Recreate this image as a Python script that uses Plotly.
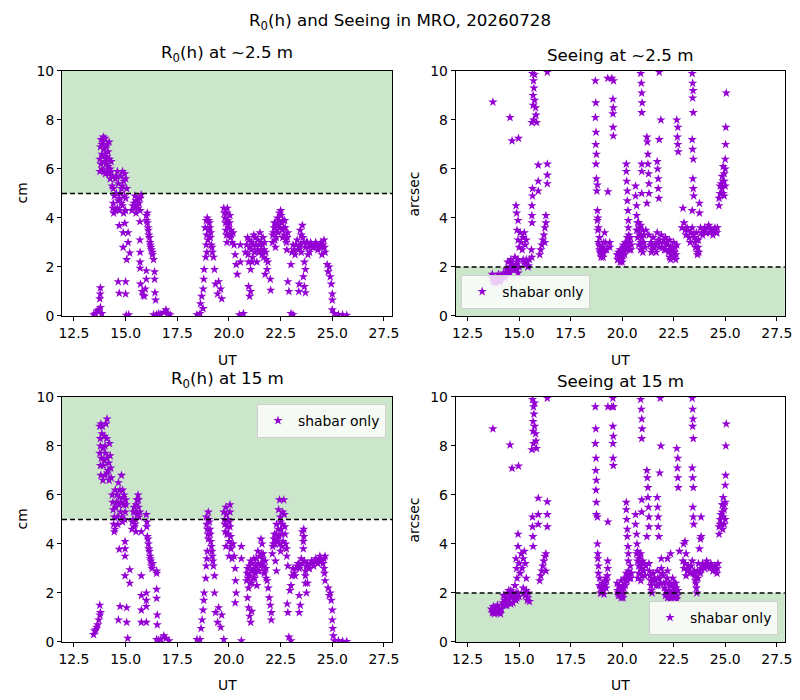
import plotly.graph_objects as go

# ---- data (UT hours, R0 in cm, seeing in arcsec) ----

ut_r0_low = [
    13.45, 13.55, 13.62, 13.7, 13.78, 13.85, 13.75, 13.77, 13.78,
    13.75, 13.75, 13.78, 13.82, 13.85, 13.88, 13.9, 13.95, 13.98, 14.0, 14.05, 14.08, 14.1, 14.15, 14.2, 14.22, 14.25,
    13.8, 13.85, 13.9, 13.95, 14.0, 14.05, 14.1, 14.15, 14.2, 14.25, 14.3, 14.35, 14.12, 13.92, 14.02,
    14.3, 14.35, 14.4, 14.42, 14.5, 14.55, 14.6, 14.65, 14.7, 14.75, 14.8, 14.85, 14.9, 14.95, 15.0, 15.0, 14.85,
    14.4, 14.45, 14.5, 14.55, 14.6, 14.65, 14.7, 14.75, 14.8, 14.85, 14.9, 14.95, 15.0, 15.05, 14.38,
    14.69, 14.96, 14.88, 14.88, 15.12, 15.12, 15.2, 15.05, 14.64, 14.69, 15.0, 15.0, 15.03, 15.15,
    15.3, 15.4, 15.45, 15.55, 15.6, 15.7, 15.75, 15.5,
    15.35, 15.45, 15.5, 15.6, 15.65, 15.7,
    15.69, 15.69, 15.7, 15.7, 15.7, 15.72, 15.8, 15.85, 15.95, 15.9,
    16.0, 16.05, 16.1, 16.15, 16.2, 16.25, 16.3, 16.35, 16.05,
    16.02, 16.08, 16.12, 16.18, 16.22, 16.3,
    16.0, 16.0, 16.4, 16.4, 16.42, 16.45,
    16.35, 16.5, 16.6, 16.7, 16.85, 16.95, 17.05, 17.15,
    18.45, 18.6, 18.62, 18.68, 18.75, 18.75, 18.78, 18.8,
    18.85, 18.9, 18.95, 19.0, 19.05, 19.1, 19.15, 19.2, 19.25, 18.88, 18.9, 19.3,
    18.92, 18.98, 19.02, 19.08, 19.12, 19.18, 18.93,
    19.35, 19.45, 19.5, 19.6, 19.65,
    19.75, 19.8, 19.85, 19.9, 19.95, 20.0, 20.05, 20.1, 20.15, 19.9,
    19.78, 19.83, 19.88, 19.93, 19.98, 20.03, 20.08, 20.12, 19.92,
    20.2, 20.25, 20.3, 20.35, 20.4, 20.5, 20.7, 20.55, 20.55,
    20.8, 20.9, 20.95, 21.0, 21.05, 21.1, 21.15, 21.2, 21.3, 21.35, 21.4, 21.45, 20.95, 21.0, 21.05,
    20.85, 20.92, 20.98, 21.08, 21.12, 21.18, 21.25, 21.28, 21.38, 21.48, 21.58, 21.62, 21.68, 21.72, 21.78, 21.88,
    21.5, 21.55, 21.6, 21.65, 21.7, 21.8, 21.85, 21.75, 22.0, 22.02,
    22.1, 22.15, 22.2, 22.3, 22.35, 22.4, 22.45, 22.5, 22.55, 22.6, 22.65, 22.7, 22.75, 22.8, 22.85, 22.25,
    22.12, 22.18, 22.28, 22.32, 22.38, 22.42, 22.48, 22.52, 22.58, 22.62, 22.68, 22.72, 22.78, 22.82, 22.22,
    22.85, 22.9, 23.0, 23.1,
    23.0, 23.05, 23.1, 23.2, 23.3, 23.35, 23.45, 23.5, 23.55, 23.6, 23.7, 23.8, 23.9, 24.0, 24.1, 24.2, 24.3,
    24.4, 24.5, 24.6, 24.65, 23.65, 23.7,
    23.15, 23.25, 23.4, 23.5, 23.58, 23.75, 23.85, 23.95, 24.05, 24.15, 24.25, 24.35, 24.45, 24.55, 24.62,
    23.82, 24.5, 23.45,
    23.6, 23.65, 23.7, 23.4, 23.38,
    24.75, 24.8, 24.85, 24.9, 24.95, 25.0, 25.0, 25.0, 25.1, 25.3, 25.5, 25.7,
]
r0_low = [
    0.05, 0.1, 0.2, 0.25, 0.35, 0.1, 0.7, 0.9, 1.15,
    5.9, 6.4, 6.9, 7.2, 6.6, 6.0, 7.1, 6.8, 6.3, 7.25, 6.9, 6.5, 7.0, 6.1, 5.8, 6.4, 5.6,
    6.2, 7.0, 6.5, 5.9, 6.6, 6.2, 5.9, 6.7, 7.1, 6.0, 6.3, 5.7, 6.4, 7.3, 5.8,
    5.9, 5.3, 4.6, 4.2, 5.6, 5.0, 4.4, 5.4, 4.8, 5.7, 5.2, 4.5, 5.5, 4.9, 4.3, 5.6, 5.9,
    5.2, 4.9, 4.3, 5.7, 5.9, 4.7, 4.3, 5.0, 4.6, 5.3, 4.2, 5.8, 4.8, 5.2, 4.4,
    3.69, 3.78, 3.4, 2.8, 3.4, 3.0, 2.57, 2.3, 1.4, 0.93, 1.4, 0.9, 0.03, 0.05,
    4.3, 4.6, 4.9, 4.5, 4.8, 4.3, 4.95, 4.2,
    4.5, 4.4, 4.7, 4.4, 4.6, 4.8,
    3.85, 3.1, 2.6, 2.2, 1.95, 1.3, 1.0, 0.85, 1.1, 0.8,
    4.1, 3.8, 3.5, 3.2, 2.9, 2.7, 2.5, 2.3, 4.2,
    3.9, 3.6, 3.3, 3.0, 2.8, 2.6,
    1.85, 1.5, 1.8, 1.5, 0.95, 0.65,
    0.05, 0.05, 0.1, 0.05, 0.15, 0.25, 0.1, 0.05,
    0.05, 0.1, 0.5, 0.8, 0.3, 1.1, 1.5, 1.9,
    3.6, 3.9, 4.0, 3.5, 3.8, 3.2, 2.9, 2.6, 2.4, 2.4, 2.9, 1.9,
    3.3, 3.1, 3.9, 3.6, 3.4, 2.8, 2.6,
    1.3, 0.9, 1.4, 1.1, 0.7,
    4.4, 4.0, 3.5, 4.2, 3.7, 3.3, 4.1, 3.5, 3.0, 3.0,
    4.2, 3.8, 3.3, 3.9, 3.6, 3.8, 3.2, 3.3, 4.4,
    3.4, 2.9, 2.5, 2.1, 1.7, 0.05, 0.1, 2.9, 2.2,
    2.6, 3.2, 2.2, 2.8, 1.9, 3.0, 2.4, 3.3, 2.9, 2.2, 3.1, 2.6, 1.2, 0.8, 1.0,
    2.9, 2.5, 3.1, 2.7, 2.2, 2.9, 2.6, 3.2, 2.7, 2.9, 2.7, 2.9, 2.4, 3.0, 2.6, 2.2,
    3.4, 3.0, 2.5, 3.2, 2.7, 2.3, 1.9, 1.7, 1.5, 1.05,
    3.0, 3.4, 3.8, 3.5, 4.0, 3.7, 4.2, 4.3, 3.8, 3.2, 3.6, 3.9, 3.1, 2.7, 3.4, 2.8,
    3.3, 3.6, 3.2, 3.7, 3.4, 3.9, 3.6, 4.1, 3.5, 3.9, 3.3, 3.6, 3.0, 3.2, 3.1,
    1.4, 1.0, 0.1, 0.05,
    2.1, 2.6, 2.9, 2.5, 3.1, 2.7, 2.9, 3.3, 3.7, 3.0, 2.8, 3.0, 2.6, 2.9, 2.8, 3.0, 2.7,
    2.9, 2.8, 3.1, 2.6, 2.2, 1.9,
    2.7, 2.9, 2.8, 2.6, 3.2, 3.0, 2.8, 3.0, 2.8, 2.9, 2.9, 2.8, 3.0, 2.9, 2.8,
    2.5, 2.5, 3.5,
    1.6, 1.2, 0.95, 1.3, 1.0,
    2.1, 1.8, 2.0, 1.6, 1.3, 0.9, 0.65, 0.25, 0.1, 0.05, 0.05, 0.03,
]

ut_see_low = [
    13.7, 13.75, 13.85, 13.95, 14.0, 14.05, 14.15, 14.25, 14.3, 14.4, 14.45, 14.5, 14.6, 14.65, 14.7, 14.8,
    14.85, 14.9, 14.95, 15.0,
    13.7, 13.8, 13.9, 14.0, 14.1, 14.2, 14.35, 14.45, 14.55, 14.65, 14.75, 14.85, 14.9, 14.95, 14.55,
    13.73, 14.56, 14.66, 14.97,
    14.85, 14.88, 14.9, 14.95, 15.0, 15.05, 15.1, 15.15, 15.2, 15.25, 15.3, 15.35, 14.95,
    15.2, 15.3, 15.4, 15.45, 15.5, 15.25, 15.35, 15.42,
    15.62, 15.62, 15.63, 15.65, 15.65, 15.93, 15.93, 15.93, 15.6, 15.62,
    15.65, 15.7, 15.72, 15.68, 15.75, 15.8, 15.82, 15.85, 15.7, 15.62, 15.75, 15.68,
    16.0, 16.05, 16.1, 16.15, 16.2, 16.25, 16.3, 16.3, 16.25, 16.37, 16.37, 16.37, 16.37,
    18.7, 18.72, 18.7, 18.73, 18.72, 18.75, 18.73, 18.75, 18.77, 18.8, 18.8, 18.82, 18.85, 18.9, 18.95,
    19.0, 19.05, 19.1, 18.9, 19.1, 19.15, 19.25, 19.4, 19.4, 19.31, 18.8,
    18.88, 18.93, 18.98, 19.03, 19.08, 19.15, 19.2, 18.85, 18.82,
    19.5, 19.58, 19.55, 19.57, 19.55, 19.56, 19.57, 19.3,
    19.8, 19.85, 19.9, 19.95, 20.0, 20.05, 20.1, 20.15, 20.2, 20.25, 20.3, 19.75, 20.35, 20.4, 20.45,
    19.78, 19.82, 19.88, 19.92, 19.98, 20.02, 20.08, 20.12, 20.18, 20.22, 20.28, 20.38, 20.42, 19.9, 20.0,
    20.2, 20.2, 20.22, 20.25, 20.25, 20.28, 20.3, 20.3, 20.32,
    20.65, 20.65, 20.7, 20.7, 20.75, 20.8, 20.85, 20.9, 20.95, 21.0, 21.05, 20.8, 20.9, 21.0,
    20.7, 20.75, 20.8, 20.85, 20.9, 20.95, 21.0, 21.05, 21.1, 21.15,
    20.95, 20.95, 20.95, 20.9, 20.93, 20.95, 20.97, 20.95,
    21.2, 21.22, 21.25, 21.25, 21.28, 21.3, 21.3, 21.2,
    21.3, 21.4, 21.45, 21.5, 21.6, 21.7, 21.75, 21.8, 21.9, 22.0, 22.05, 22.1, 22.2, 22.25, 22.3, 22.4,
    22.45, 22.5, 22.55, 22.6, 22.65,
    21.35, 21.42, 21.48, 21.55, 21.65, 21.72, 21.85, 21.95, 22.02, 22.12, 22.18, 22.28, 22.35, 22.42,
    22.48, 22.52, 22.58, 22.62, 22.3, 22.35,
    21.7, 21.72, 21.75, 21.75, 21.78, 21.8, 21.8, 21.88,
    22.65, 22.7, 22.68, 22.7, 22.72,
    23.4, 23.42, 23.44, 23.42, 23.45, 23.4, 23.42, 23.45, 23.43, 23.45, 23.47,
    22.9, 23.0, 23.1, 23.2, 23.3, 23.4, 23.5, 23.55, 23.6, 23.65, 23.7, 23.8, 23.9, 24.0, 24.1, 24.2,
    24.3, 24.4, 24.5, 24.6, 23.75, 23.75, 23.4, 22.95,
    23.05, 23.15, 23.25, 23.35, 23.45, 23.52, 23.62, 23.68, 23.72, 23.85, 23.95, 24.05, 24.15, 24.25,
    24.35, 24.45, 24.55, 24.62, 23.65,
    24.7, 24.75, 24.8, 24.85, 24.9, 24.95, 24.95, 25.0, 25.0, 25.02, 25.03, 25.05,
    24.7, 24.75, 24.8, 24.85, 24.9, 24.95, 25.0, 24.9,
]
see_low = [
    1.55, 1.4, 1.35, 1.45, 1.7, 1.4, 1.6, 1.75, 1.55, 1.9, 2.2, 1.8, 2.3, 1.95, 2.1, 2.4,
    1.9, 2.2, 1.75, 2.0,
    1.7, 1.5, 1.6, 1.5, 1.45, 1.65, 1.7, 1.9, 2.0, 2.2, 1.9, 2.1, 1.9, 2.3, 1.75,
    8.73, 8.1, 7.15, 7.25,
    4.5, 4.2, 3.5, 3.1, 2.8, 3.4, 3.0, 2.7, 3.2, 3.4, 2.9, 3.1, 3.9,
    2.3, 2.1, 2.2, 2.05, 2.3, 2.2, 2.3, 2.0,
    4.5, 4.1, 3.8, 5.2, 4.9, 5.5, 5.1, 6.16, 2.7, 2.4,
    9.9, 9.6, 9.3, 9.0, 8.8, 8.5, 8.2, 7.9, 8.0, 7.9, 9.85, 8.6,
    2.5, 2.7, 2.9, 3.1, 3.3, 3.6, 3.8, 4.1, 3.0, 6.2, 5.75, 5.4, 9.95,
    9.6, 8.7, 8.1, 7.5, 7.0, 6.6, 6.2, 5.6, 5.1, 4.3, 3.9, 3.5, 3.0, 2.7, 2.6,
    2.5, 2.8, 2.55, 3.2, 3.0, 3.4, 2.7, 3.0, 2.8, 5.07, 5.35,
    2.9, 2.6, 2.4, 2.6, 2.4, 2.7, 3.0, 3.6, 4.0,
    9.7, 9.6, 8.85, 8.5, 8.25, 7.7, 7.35, 9.7,
    2.3, 2.5, 2.7, 2.35, 2.5, 2.9, 2.6, 3.0, 2.8, 3.2, 3.0, 2.5, 2.7, 3.2, 2.9,
    2.3, 2.6, 2.4, 2.5, 2.3, 2.6, 2.8, 2.5, 2.7, 3.0, 2.8, 3.0, 2.7, 2.2, 2.2,
    6.2, 5.9, 5.5, 5.1, 4.7, 4.3, 3.9, 3.6, 3.3,
    5.3, 4.9, 4.5, 4.1, 3.8, 3.5, 3.3, 3.7, 3.2, 3.5, 3.0, 2.9, 2.7, 2.6,
    3.5, 3.2, 3.8, 3.6, 3.0, 2.8, 3.0, 3.3, 2.8, 3.5,
    5.0, 6.2, 5.9, 9.9, 9.5, 9.1, 8.7, 8.3,
    7.3, 7.1, 6.6, 6.2, 5.8, 5.4, 5.0, 4.6,
    3.3, 3.0, 2.7, 3.2, 2.9, 3.4, 3.1, 2.8, 3.3, 3.0, 2.7, 3.2, 2.9, 2.6, 3.1, 2.5,
    2.8, 3.0, 2.6, 2.3, 2.9,
    2.9, 2.6, 2.9, 2.8, 2.6, 3.0, 3.0, 2.8, 3.1, 2.7, 3.0, 2.7, 2.8, 2.7,
    2.6, 2.4, 2.8, 2.5, 2.4, 2.3,
    6.3, 6.0, 5.6, 5.2, 4.8, 7.2, 9.95, 8.0,
    8.0, 7.7, 7.3, 7.0, 6.7,
    9.9, 9.5, 9.2, 8.9, 8.3, 7.2, 6.8, 6.4, 5.6, 5.2, 4.9,
    3.6, 3.8, 3.3, 3.5, 3.0, 3.6, 3.2, 2.8, 3.4, 2.6, 3.1, 3.6, 3.3, 3.6, 3.4, 3.7,
    3.5, 3.3, 3.6, 3.4, 4.2, 4.6, 4.3, 4.4,
    3.5, 3.6, 3.2, 3.4, 3.3, 3.0, 3.1, 2.8, 2.6, 3.4, 3.5, 3.4, 3.6, 3.4,
    3.5, 3.5, 3.4, 3.6, 2.5,
    4.5, 5.0, 5.4, 5.7, 6.1, 5.5, 4.9, 6.0, 6.4, 7.0, 7.7, 9.1,
    4.8, 5.3, 5.0, 5.2, 5.5, 5.8, 5.3, 5.0,
]

ut_r0_high = [
    13.45, 13.5, 13.55, 13.6, 13.65, 13.7, 13.75, 13.75, 13.78,
    13.75, 13.77, 13.75, 13.78, 13.8, 13.85, 13.9, 13.95, 13.9, 14.0, 14.05, 14.1, 14.1, 14.15, 14.2, 14.25, 14.3,
    13.78, 13.82, 13.88, 13.92, 13.98, 14.02, 14.08, 14.12, 14.18, 14.22, 14.28, 13.8, 14.0,
    14.35, 14.4, 14.42, 14.45, 14.5, 14.55, 14.6, 14.65, 14.7, 14.75, 14.8, 14.85, 14.9, 14.95, 15.0, 14.85,
    14.38, 14.45, 14.52, 14.58, 14.62, 14.68, 14.72, 14.78, 14.82, 14.88, 14.92, 14.98, 15.02, 14.48,
    14.69, 14.97, 14.97, 14.97, 14.97, 15.2, 15.2, 14.73, 14.65, 15.05, 15.05, 15.1,
    15.3, 15.35, 15.4, 15.45, 15.5, 15.55, 15.6, 15.62, 15.65, 15.5, 15.76,
    15.32, 15.38, 15.42, 15.48, 15.52, 15.58, 15.62, 15.68,
    15.76, 15.76, 15.76, 15.76, 16.0, 16.0,
    16.0, 16.02, 16.05, 16.1, 16.15, 16.2, 16.25, 16.3, 16.5, 16.5,
    16.03, 16.08, 16.12, 16.18, 16.22, 16.28,
    16.0, 16.0, 16.5, 16.5, 16.53, 16.53,
    16.5, 16.6, 16.7, 16.85, 16.95, 17.1,
    18.45, 18.6, 18.65, 18.7, 18.75, 18.78, 18.8,
    18.9, 18.95, 19.0, 19.0, 19.05, 19.1, 19.15, 19.2, 19.25, 19.3, 18.95, 18.9, 18.88,
    18.92, 18.98, 19.02, 19.08, 19.12, 19.18, 19.22, 18.93,
    19.3, 19.35, 19.45, 19.5, 19.6, 19.65, 19.75,
    19.75, 19.8, 19.85, 19.9, 19.95, 20.0, 20.05, 20.1, 20.15, 19.85, 20.05, 20.0,
    19.78, 19.82, 19.88, 19.92, 19.98, 20.02, 20.08, 20.12, 20.05,
    20.2, 20.25, 20.3, 20.32, 20.35, 20.3, 20.6, 20.6, 20.6,
    20.85, 20.9, 20.95, 21.0, 21.05, 21.1, 21.15, 21.2, 21.25, 21.3, 21.35, 21.4, 21.45,
    20.88, 20.92, 20.98, 21.02, 21.08, 21.12, 21.18, 21.22, 21.28, 21.32, 21.38, 21.42, 21.48, 21.52,
    21.58, 21.62, 21.68, 21.72, 21.78, 21.85,
    20.9, 20.95, 21.0, 21.05, 21.1,
    21.55, 21.6, 21.65,
    21.6, 21.7, 21.75, 21.8, 21.9, 21.95, 22.0, 22.05, 22.05,
    22.1, 22.15, 22.2, 22.25, 22.3, 22.35, 22.4, 22.45, 22.5, 22.55, 22.6, 22.65, 22.7, 22.75, 22.8, 22.85,
    22.5, 22.3,
    22.12, 22.18, 22.22, 22.28, 22.32, 22.38, 22.42, 22.48, 22.52, 22.58, 22.62, 22.68, 22.72, 22.78,
    22.45, 22.55,
    22.82, 22.85, 22.9, 23.0,
    23.0, 23.05, 23.1, 23.2, 23.3, 23.4, 23.5, 23.6, 23.55, 23.6, 23.65, 23.7, 23.8, 23.9, 24.0, 24.1,
    24.2, 24.3, 24.4, 24.5, 24.6, 24.65, 23.7, 23.75, 22.95,
    23.15, 23.25, 23.35, 23.45, 23.55, 23.75, 23.85, 23.95, 24.05, 24.15, 24.25, 24.35, 24.45, 24.55,
    24.6, 23.7, 23.8, 24.62, 24.65,
    23.62, 23.62, 23.4, 23.45, 23.4,
    24.8, 24.85, 24.9, 24.95, 25.0, 25.0, 25.02, 25.05, 25.1, 25.3, 25.5, 25.7,
]
r0_high = [
    0.3, 0.45, 0.5, 0.6, 0.7, 0.9, 1.1, 1.5, 1.2,
    8.8, 8.3, 7.7, 7.2, 6.8, 8.5, 7.9, 7.4, 6.6, 8.0, 8.9, 9.1, 7.5, 7.0, 6.6, 7.6, 6.7,
    8.0, 7.5, 8.8, 7.2, 8.4, 7.7, 8.3, 6.9, 7.3, 8.1, 7.1, 8.9, 6.8,
    6.0, 5.4, 4.8, 4.5, 6.2, 5.7, 5.1, 6.5, 5.9, 5.3, 6.8, 6.2, 5.6, 5.0, 5.8, 4.9,
    5.7, 5.1, 5.5, 6.0, 4.8, 5.6, 6.2, 5.7, 5.1, 5.9, 6.0, 5.3, 5.6, 4.6,
    3.78, 4.1, 3.8, 3.5, 2.7, 2.95, 2.4, 1.45, 0.9, 1.4, 0.8, 0.15,
    4.6, 5.0, 5.5, 4.8, 5.3, 5.8, 6.0, 5.5, 5.1, 4.5, 4.5,
    4.9, 5.3, 4.7, 5.0, 5.6, 5.2, 5.8, 5.3,
    2.7, 1.9, 1.3, 0.8, 1.45, 0.8,
    5.2, 4.7, 4.3, 4.0, 3.7, 3.4, 3.1, 3.2, 2.9, 2.8,
    4.9, 4.2, 3.8, 3.5, 3.3, 3.0,
    2.0, 1.7, 2.15, 1.78, 1.1, 0.7,
    0.1, 0.08, 0.1, 0.25, 0.15, 0.05,
    0.1, 0.1, 0.55, 0.9, 1.3, 1.7, 2.0,
    5.1, 4.6, 4.2, 5.3, 4.9, 4.4, 3.9, 3.5, 3.1, 2.7, 3.7, 3.1, 2.6,
    4.8, 4.4, 5.0, 4.6, 4.1, 3.7, 3.3, 3.4,
    2.0, 1.2, 0.8, 1.4, 0.6, 1.1, 0.1,
    5.3, 4.8, 5.5, 4.4, 5.0, 4.1, 4.7, 3.8, 3.4, 3.9, 5.6, 3.5,
    5.0, 4.5, 5.2, 4.7, 4.4, 4.9, 4.3, 4.0, 5.3,
    4.0, 3.5, 3.0, 2.5, 2.0, 1.6, 3.9, 3.4, 0.05,
    2.5, 3.0, 2.2, 2.7, 3.3, 2.4, 2.9, 3.4, 2.6, 3.1, 2.3, 3.7, 2.9,
    2.8, 2.6, 3.1, 2.4, 2.9, 3.2, 2.6, 3.0, 2.8, 3.4, 2.9, 3.2, 3.5, 3.1,
    3.6, 3.4, 3.1, 2.9, 3.0, 2.5,
    1.8, 1.4, 1.05, 0.8, 1.25,
    4.2, 4.0, 3.6,
    3.2, 2.8, 3.3, 2.6, 2.2, 1.8, 1.5, 1.2, 0.9,
    3.6, 4.0, 4.4, 3.3, 4.8, 4.2, 5.4, 5.8, 4.9, 4.4, 5.3, 5.8, 4.7, 4.0, 3.5, 3.1,
    3.7, 2.9,
    3.9, 4.2, 4.0, 4.4, 4.1, 4.6, 4.3, 5.1, 4.6, 4.8, 4.1, 5.2, 4.4, 3.8,
    4.0, 3.9,
    1.55, 1.2, 0.2, 0.05,
    2.3, 2.7, 3.0, 2.7, 3.1, 3.0, 3.4, 3.8, 4.5, 4.1, 3.3, 2.9, 3.2, 3.0, 3.3, 3.1,
    3.4, 3.2, 3.5, 3.3, 3.0, 3.5, 2.4, 2.0, 2.1,
    2.8, 3.0, 3.2, 3.1, 3.2, 3.1, 3.0, 3.2, 3.2, 3.3, 3.3, 3.3, 3.4, 3.2,
    3.4, 2.7, 2.4, 2.8, 2.5,
    4.6, 4.3, 1.9, 1.5, 1.2,
    2.2, 1.9, 2.0, 1.7, 1.3, 0.9, 0.55, 0.25, 0.05, 0.05, 0.03, 0.02,
]

ut_see_high = [
    13.65, 13.7, 13.75, 13.8, 13.9, 13.95, 14.0, 14.05, 14.1, 14.2, 14.25, 14.3, 14.4, 14.45, 14.5, 14.6,
    14.7, 14.75, 14.8, 14.85, 14.95, 15.0,
    13.7, 13.75, 13.85, 13.95, 14.05, 14.15, 14.25, 14.35, 14.45, 14.5, 14.55, 14.65, 14.7, 14.8,
    14.85, 14.9, 14.35, 14.6,
    13.73, 14.56, 14.66, 14.97,
    14.85, 14.88, 14.9, 14.95, 14.95, 15.0, 15.05, 15.1, 15.15, 15.2, 15.25, 15.3, 15.35,
    15.2, 15.3, 15.4, 15.45, 15.5, 15.25, 15.35, 15.42,
    15.65, 15.65, 15.67, 15.68,
    15.65, 15.7, 15.72, 15.68, 15.75, 15.8, 15.82, 15.85, 15.7, 15.62, 15.75, 15.68,
    15.93, 15.93, 15.93,
    16.0, 16.05, 16.1, 16.15, 16.2, 16.25, 16.3, 16.3, 16.37, 16.37, 16.37, 16.37,
    18.7, 18.72, 18.7, 18.73, 18.72, 18.75, 18.73, 18.75, 18.75, 18.8,
    18.8, 18.82, 18.85, 18.9, 18.95, 19.0, 19.05, 19.1, 19.15, 19.2, 19.25, 19.3, 19.3, 19.31,
    18.85, 18.9, 18.95, 19.02, 19.08, 19.12, 19.18, 19.22, 19.28, 18.82,
    19.5, 19.58, 19.55, 19.57, 19.55, 19.56, 19.57, 19.31, 19.55,
    19.8, 19.85, 19.9, 19.95, 20.0, 20.05, 20.1, 20.15, 20.2, 20.25, 20.3, 20.35, 20.4, 19.75, 20.45,
    19.78, 19.82, 19.88, 19.92, 19.98, 20.02, 20.08, 20.12, 20.18, 20.22, 20.28, 20.38, 20.42, 19.95, 20.05,
    20.2, 20.2, 20.22, 20.25, 20.25, 20.28, 20.3, 20.3,
    20.65, 20.65, 20.7, 20.72, 20.75, 20.8, 20.85, 20.9, 20.95, 21.0, 21.05, 20.8, 20.9, 20.77,
    20.7, 20.75, 20.8, 20.85, 20.9, 20.95, 21.0, 21.05, 21.1, 21.15,
    20.9, 20.93, 20.95, 20.97, 20.95,
    21.2, 21.22, 21.25, 21.25, 21.28, 21.3, 21.3, 21.2, 20.95, 20.95,
    21.3, 21.35, 21.4, 21.45, 21.5, 21.6, 21.7, 21.75, 21.8, 21.9, 22.0, 22.05, 22.1, 22.15, 22.2, 22.25,
    22.3, 22.35, 22.4, 22.45, 22.5, 22.55, 22.6, 22.65, 22.7, 22.2, 22.35, 21.9,
    21.32, 21.38, 21.42, 21.48, 21.55, 21.65, 21.72, 21.85, 21.95, 22.02, 22.12, 22.18, 22.28, 22.32,
    22.42, 22.48, 22.52, 22.58, 22.62, 22.68, 22.2, 22.4,
    21.7, 21.72, 21.75, 21.75, 21.78, 21.85, 21.88, 21.82,
    22.65, 22.7, 22.68, 22.7, 22.72, 22.78,
    23.4, 23.42, 23.44, 23.42, 23.45, 23.4, 23.42, 23.45, 23.43, 23.45, 23.47, 22.98, 23.83, 23.83,
    22.95, 23.0, 23.1, 23.2, 23.3, 23.4, 23.5, 23.55, 23.6, 23.65, 23.7, 23.8, 23.9, 24.0, 24.1, 24.2,
    24.3, 24.4, 24.5, 24.6, 24.65, 23.75, 23.8, 23.1, 23.05,
    23.05, 23.15, 23.25, 23.35, 23.45, 23.52, 23.58, 23.62, 23.68, 23.75, 23.85, 23.95, 24.05, 24.15,
    24.25, 24.35, 24.45, 24.55, 24.62, 23.6,
    24.7, 24.75, 24.8, 24.85, 24.9, 24.95, 24.95, 25.0, 25.0, 25.02, 25.03, 25.05,
    24.7, 24.75, 24.8, 24.85, 24.9, 24.95, 25.0, 24.88,
]
see_high = [
    1.35, 1.2, 1.45, 1.15, 1.3, 1.5, 1.2, 1.35, 1.15, 1.6, 1.9, 1.7, 1.5, 2.0, 1.75, 2.1,
    1.6, 1.95, 2.3, 1.7, 2.0, 1.85,
    1.3, 1.2, 1.4, 1.25, 1.2, 1.35, 1.5, 1.8, 1.7, 2.1, 1.9, 1.8, 2.0, 1.75,
    2.0, 1.8, 1.5, 1.55,
    8.7, 8.04, 7.09, 7.18,
    3.4, 3.0, 2.6, 4.4, 3.9, 3.2, 2.8, 3.6, 3.0, 3.4, 3.7, 3.2, 2.6,
    2.2, 1.9, 1.7, 2.0, 1.65, 2.0, 2.1, 1.8,
    5.1, 4.7, 4.3, 3.9,
    9.9, 9.6, 9.3, 9.0, 8.8, 8.5, 8.2, 7.9, 8.1, 7.85, 9.75, 8.6,
    5.87, 5.2, 4.8,
    2.5, 2.7, 2.9, 3.1, 3.3, 3.5, 3.6, 2.9, 5.72, 5.2, 4.7, 9.95,
    9.6, 8.7, 8.1, 7.5, 7.0, 6.6, 6.2, 5.7, 5.2, 5.1,
    4.0, 3.6, 3.1, 2.6, 2.2, 2.0, 2.4, 2.1, 2.3, 2.6, 2.5, 3.0, 3.3, 4.9,
    2.8, 2.3, 2.0, 2.2, 2.3, 1.95, 2.4, 2.2, 2.7, 3.4,
    9.6, 9.6, 8.8, 8.4, 8.1, 7.5, 7.2, 9.6, 9.95,
    2.0, 2.3, 1.9, 2.5, 2.1, 1.8, 2.6, 2.3, 2.8, 2.5, 2.9, 2.6, 3.1, 2.4, 2.8,
    2.1, 1.9, 2.2, 2.0, 1.9, 2.3, 2.2, 2.4, 2.5, 2.6, 2.7, 2.8, 2.6, 1.8, 2.0,
    5.7, 5.4, 5.0, 4.6, 4.3, 3.9, 3.6, 3.3,
    5.2, 4.8, 4.4, 4.0, 3.7, 3.4, 3.2, 3.6, 3.0, 3.3, 2.9, 2.8, 2.5, 2.6,
    3.6, 3.3, 3.1, 3.5, 3.0, 2.7, 2.9, 3.2, 2.7, 3.1,
    9.9, 9.5, 9.1, 8.7, 8.3,
    7.0, 6.7, 6.3, 5.9, 5.5, 5.1, 4.7, 4.3, 5.8, 5.3,
    3.2, 2.7, 2.3, 2.0, 2.8, 2.5, 2.9, 2.3, 2.6, 3.0, 2.7, 2.2, 1.9, 2.4, 2.9, 2.1,
    1.75, 2.3, 2.0, 2.6, 2.2, 1.8, 2.4, 1.75, 2.1, 3.4, 3.6, 3.4,
    2.9, 2.5, 2.1, 2.5, 2.6, 2.3, 2.6, 2.4, 2.8, 2.4, 2.1, 2.6, 2.4, 2.0,
    2.3, 2.0, 2.4, 2.0, 2.2, 1.9, 1.8, 1.8,
    5.9, 5.5, 5.1, 4.7, 4.3, 9.95, 8.0, 6.9,
    7.9, 7.5, 7.1, 6.7, 6.3, 3.7,
    9.95, 9.5, 9.1, 8.8, 8.3, 7.1, 6.7, 6.3, 5.5, 5.1, 4.8, 4.0, 5.1, 4.3,
    3.3, 3.0, 2.7, 3.1, 2.8, 3.3, 2.9, 2.5, 2.2, 2.9, 3.2, 2.8, 3.2, 3.0, 3.3, 3.1,
    3.2, 2.9, 3.1, 2.8, 3.2, 3.8, 4.2, 3.6, 4.1,
    3.2, 2.9, 3.0, 3.1, 2.8, 2.7, 2.4, 2.0, 2.6, 2.9, 3.0, 3.1, 3.1, 3.2,
    3.0, 3.1, 3.0, 2.9, 3.0, 2.6,
    4.4, 4.8, 5.2, 5.6, 5.9, 5.4, 4.8, 5.7, 6.4, 6.8, 8.0, 8.9,
    4.7, 5.0, 4.8, 5.3, 5.1, 5.6, 5.0, 4.6,
]

R0_LIMIT = 5      # cm, good R0 above this
SEEING_LIMIT = 2  # arcsec, good seeing below this

assert len(ut_r0_low) == len(r0_low), (len(ut_r0_low), len(r0_low))
assert len(ut_see_low) == len(see_low), (len(ut_see_low), len(see_low))
assert len(ut_r0_high) == len(r0_high), (len(ut_r0_high), len(r0_high))
assert len(ut_see_high) == len(see_high), (len(ut_see_high), len(see_high))

PURPLE = "#9400D3"
FONT = "DejaVu Sans"
SMALL = 13.9   # 10 pt at 100 dpi
LARGE = 16.7   # 12 pt at 100 dpi

xdom = [[0.0775, 0.490], [0.5695, 0.981]]
ydom = [[0.5486, 0.8986], [0.0829, 0.4329]]
xlab_y = [0.4857, 0.0214]        # "UT" label centres
ylab_x = [0.0275, 0.5175]        # y label centres

panels = [
    # (x, y, col, row, title, ylabel, band, legend pos)
    (ut_r0_low, r0_low, 0, 0, "R<sub>0</sub>(h) at ~2.5 m", "cm", "r0",
     dict(x=0.4825, y=0.887, xanchor="right", yanchor="top")),
    (ut_see_low, see_low, 1, 0, "Seeing at ~2.5 m", "arcsec", "see",
     dict(x=0.5765, y=0.5586, xanchor="left", yanchor="bottom")),
    (ut_r0_high, r0_high, 0, 1, "R<sub>0</sub>(h) at 15 m", "cm", "r0",
     dict(x=0.4825, y=0.4229, xanchor="right", yanchor="top")),
    (ut_see_high, see_high, 1, 1, "Seeing at 15 m", "arcsec", "see",
     dict(x=0.9725, y=0.0929, xanchor="right", yanchor="bottom")),
]

fig = go.Figure()
layout = dict(
    width=800, height=700,
    margin=dict(l=0, r=0, t=0, b=0, autoexpand=False),
    paper_bgcolor="white", plot_bgcolor="white",
    font=dict(family=FONT, size=SMALL, color="black"),
    shapes=[], annotations=[],
)

for i, (xs, ys, col, row, title, ylab, band, legpos) in enumerate(panels):
    n = "" if i == 0 else str(i + 1)
    xa, ya = "x" + n, "y" + n
    leg = "legend" + n
    fig.add_trace(go.Scatter(
        x=xs, y=ys, mode="markers", name="shabar only",
        marker=dict(symbol="star", size=7, color=PURPLE, line=dict(width=0)),
        xaxis=xa, yaxis=ya, legend=leg,
    ))
    layout["xaxis" + n] = dict(
        domain=xdom[col], anchor=ya, range=[11.92, 27.89],
        tickmode="linear", tick0=12.5, dtick=2.5, tickformat=".1f",
        ticks="outside", ticklen=4, tickcolor="black",
        showline=True, linecolor="black", linewidth=1, mirror=True,
        showgrid=False, zeroline=False, automargin=False,
        tickfont=dict(size=SMALL),
    )
    layout["yaxis" + n] = dict(
        domain=ydom[row], anchor=xa, range=[0, 10],
        tickmode="linear", tick0=0, dtick=2,
        ticks="outside", ticklen=4, tickcolor="black",
        showline=True, linecolor="black", linewidth=1, mirror=True,
        showgrid=False, zeroline=False, automargin=False,
        tickfont=dict(size=SMALL),
    )
    layout[leg] = dict(
        **legpos,
        bgcolor="rgba(255,255,255,0.8)", bordercolor="#d0d0d0", borderwidth=1,
        font=dict(size=SMALL), itemsizing="trace",
    )
    if band == "r0":
        y0, y1, lim = R0_LIMIT, 10, R0_LIMIT
    else:
        y0, y1, lim = 0, SEEING_LIMIT, SEEING_LIMIT
    layout["shapes"].append(dict(
        type="rect", xref=xa + " domain", yref=ya, x0=0, x1=1, y0=y0, y1=y1,
        fillcolor="rgba(0,128,0,0.2)", line=dict(width=0), layer="below",
    ))
    layout["shapes"].append(dict(
        type="line", xref=xa + " domain", yref=ya, x0=0, x1=1, y0=lim, y1=lim,
        line=dict(color="black", width=1.6, dash="5px,3px"), layer="above",
    ))
    # subplot title
    layout["annotations"].append(dict(
        text=title, xref="paper", yref="paper",
        x=sum(xdom[col]) / 2, y=ydom[row][1] + 0.005,
        xanchor="center", yanchor="bottom", showarrow=False,
        font=dict(size=LARGE),
    ))
    # axis labels
    layout["annotations"].append(dict(
        text="UT", xref="paper", yref="paper",
        x=sum(xdom[col]) / 2, y=xlab_y[row],
        xanchor="center", yanchor="middle", showarrow=False,
        font=dict(size=SMALL),
    ))
    layout["annotations"].append(dict(
        text=ylab, xref="paper", yref="paper", textangle=-90,
        x=ylab_x[col], y=sum(ydom[row]) / 2,
        xanchor="center", yanchor="middle", showarrow=False,
        font=dict(size=SMALL),
    ))

layout["annotations"].append(dict(
    text="R<sub>0</sub>(h) and Seeing in MRO, 20260728",
    xref="paper", yref="paper", x=0.5, y=0.9686,
    xanchor="center", yanchor="middle", showarrow=False,
    font=dict(size=LARGE),
))

fig.update_layout(**layout)
# drop the browser's default 8px body margin so the figure sits at the page origin
fig.write_html("out.html", config={"displayModeBar": False},
               post_script="document.body.style.margin='0';")
